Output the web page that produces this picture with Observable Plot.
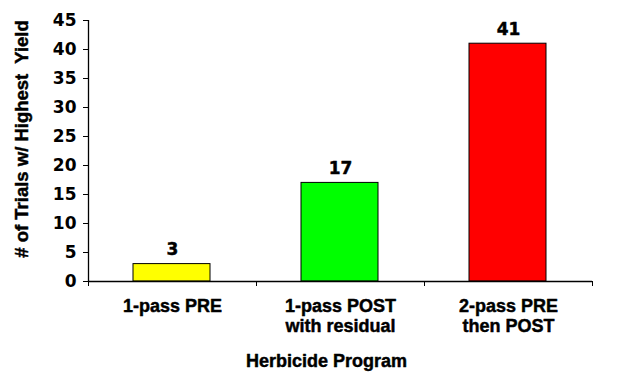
<!DOCTYPE html>
<html><head><meta charset="utf-8">
<script src="https://cdn.jsdelivr.net/npm/d3@7"></script>
<script src="https://cdn.jsdelivr.net/npm/@observablehq/plot@0.6"></script>
<style>html,body{margin:0;padding:0;background:#fff}</style>
</head><body><div id="chart"></div>
<script>
const categories = ["1-pass PRE", "1-pass POST\nwith residual", "2-pass PRE\nthen POST"];
const trials = [3, 17, 41];
const barColors = ["#FFFF00", "#00FF00", "#FF0000"];
const yTicks = [0, 5, 10, 15, 20, 25, 30, 35, 40, 45];
const xTitle = "Herbicide Program";
const yTitle = "# of Trials w/ Highest\u00a0 Yield";

const data = categories.map((c, i) => ({cat: c, pos: i, value: trials[i], color: barColors[i]}));
const boundaries = d3.range(categories.length + 1);

const textFont = "'Liberation Sans', Arial, sans-serif";
const numFont = "'DejaVu Sans', sans-serif";
const heavy = {fill: "#000", stroke: "#000", strokeWidth: 0.45, fontWeight: "bold"};

const chart = Plot.plot({
  width: 628, height: 381,
  marginLeft: 88, marginRight: 36, marginTop: 20, marginBottom: 100,
  style: {background: "#fff", color: "#000", fontWeight: "bold", fontFamily: textFont},
  x: {type: "linear", domain: [0, categories.length]},
  y: {domain: [0, 45]},
  color: {type: "identity"},
  marks: [
    Plot.rect(data, {x1: "pos", x2: d => d.pos + 1, y1: 0, y2: "value", fill: "color", stroke: "#000", strokeWidth: 1, insetLeft: 45, insetRight: 46}),
    Plot.ruleY([0], {stroke: "#000", strokeWidth: 1.3}),
    Plot.ruleX([0], {stroke: "#000", strokeWidth: 1.3}),
    Plot.axisY({ticks: yTicks, tickSize: 5, tickPadding: 7, label: null, fontSize: 17, fontFamily: numFont, fontWeight: "bold", tickFormat: d3.format("d")}),
    Plot.axisX({ticks: boundaries, tickSize: 5, tickFormat: () => "", label: null}),
    Plot.text(data, {x: d => d.pos + 0.5, y: () => 0, text: "cat", lineAnchor: "top", dy: 16, fontSize: 18, lineHeight: 1.11, ...heavy}),
    Plot.text(data, {x: d => d.pos + 0.5, y: "value", text: d => String(d.value), lineAnchor: "bottom", dy: -9, fontSize: 17, fontFamily: numFont, ...heavy}),
    Plot.text([xTitle], {frameAnchor: "bottom", lineAnchor: "bottom", dx: -14, dy: 85, fontSize: 18, ...heavy}),
    Plot.text([yTitle], {frameAnchor: "left", textAnchor: "middle", rotate: -90, dx: -66, dy: -12, fontSize: 18.5, ...heavy})
  ]
});
document.getElementById("chart").appendChild(chart);
</script>
</body></html>
